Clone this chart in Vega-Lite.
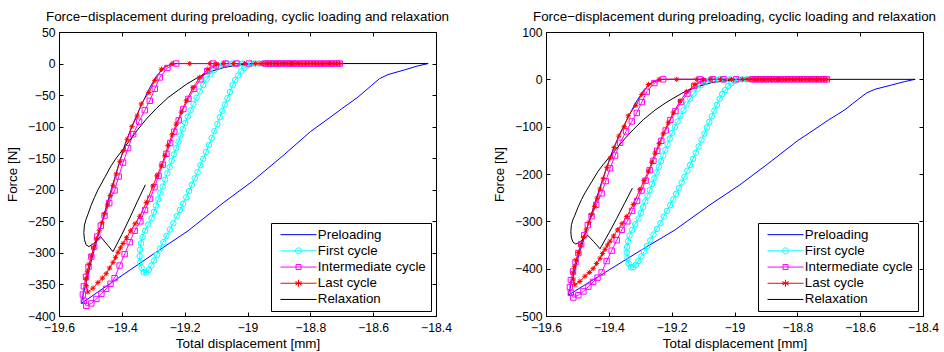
{
"$schema": "https://vega.github.io/schema/vega-lite/v6.json",
"background": "white",
"padding": {"left": 5, "top": 9, "right": 0, "bottom": 0},
"bounds": "flush",
"spacing": 110,
"config": {
  "font": "Liberation Sans",
  "view": {"stroke": "black", "strokeWidth": 1},
  "axis": {"grid": false, "domainColor": "black", "domainWidth": 1, "tickColor": "black", "tickSize": -4, "tickWidth": 1, "labelColor": "black", "labelFontSize": 12.2, "labelFont": "Liberation Sans", "titleColor": "black", "titleFontSize": 13.4, "titleFontWeight": "normal", "titleFont": "Liberation Sans", "labelFlush": false, "labelOverlap": false},
  "axisY": {"titlePadding": 8, "labelPadding": 8},
  "axisX": {"titlePadding": 3, "labelPadding": 9},
  "title": {"fontSize": 13.4, "fontWeight": "normal", "color": "black", "font": "Liberation Sans", "offset": 3}
},
"resolve": {"scale": {"color": "independent", "shape": "independent", "size": "independent", "y": "independent", "x": "independent"}, "legend": {"color": "independent", "shape": "independent", "size": "independent"}},
"datasets": {"d": [
{"s":"Preloading","o":1,"d":-18.425,"f1":0,"f2":0},
{"s":"Preloading","o":2,"d":-18.46,"f1":-4,"f2":-5},
{"s":"Preloading","o":3,"d":-18.5,"f1":-10,"f2":-12},
{"s":"Preloading","o":4,"d":-18.553,"f1":-17.5,"f2":-21},
{"s":"Preloading","o":5,"d":-18.58,"f1":-24,"f2":-29},
{"s":"Preloading","o":6,"d":-18.606,"f1":-35,"f2":-42},
{"s":"Preloading","o":7,"d":-18.648,"f1":-53,"f2":-64},
{"s":"Preloading","o":8,"d":-18.701,"f1":-72,"f2":-86},
{"s":"Preloading","o":9,"d":-18.75,"f1":-90,"f2":-108},
{"s":"Preloading","o":10,"d":-18.8,"f1":-108,"f2":-130},
{"s":"Preloading","o":11,"d":-18.887,"f1":-146,"f2":-175},
{"s":"Preloading","o":12,"d":-18.983,"f1":-186,"f2":-223},
{"s":"Preloading","o":13,"d":-19.078,"f1":-221,"f2":-265},
{"s":"Preloading","o":14,"d":-19.189,"f1":-265,"f2":-318},
{"s":"Preloading","o":15,"d":-19.3,"f1":-302,"f2":-362},
{"s":"Preloading","o":16,"d":-19.4,"f1":-336,"f2":-403},
{"s":"Preloading","o":17,"d":-19.529,"f1":-380,"f2":-456},
{"s":"Preloading","o":18,"d":-19.524,"f1":-368,"f2":-442},
{"s":"Preloading","o":19,"d":-19.515,"f1":-350,"f2":-420},
{"s":"Preloading","o":20,"d":-19.5,"f1":-318,"f2":-382},
{"s":"Preloading","o":21,"d":-19.482,"f1":-285,"f2":-342},
{"s":"Preloading","o":22,"d":-19.46,"f1":-245,"f2":-294},
{"s":"Preloading","o":23,"d":-19.437,"f1":-205,"f2":-246},
{"s":"Preloading","o":24,"d":-19.413,"f1":-165,"f2":-198},
{"s":"Preloading","o":25,"d":-19.39,"f1":-128,"f2":-154},
{"s":"Preloading","o":26,"d":-19.366,"f1":-97,"f2":-116},
{"s":"Preloading","o":27,"d":-19.34,"f1":-68,"f2":-82},
{"s":"Preloading","o":28,"d":-19.315,"f1":-42,"f2":-50},
{"s":"Preloading","o":29,"d":-19.29,"f1":-20,"f2":-24},
{"s":"Preloading","o":30,"d":-19.262,"f1":-5,"f2":-6},
{"s":"Preloading","o":31,"d":-19.235,"f1":0,"f2":0},
{"s":"Preloading","o":32,"d":-18.706,"f1":0,"f2":0},
{"s":"First cycle","o":1,"d":-18.85,"f1":0,"f2":0},
{"s":"First cycle","o":2,"d":-18.866,"f1":0,"f2":0},
{"s":"First cycle","o":3,"d":-18.882,"f1":0,"f2":0},
{"s":"First cycle","o":4,"d":-18.898,"f1":0,"f2":0},
{"s":"First cycle","o":5,"d":-18.914,"f1":0,"f2":0},
{"s":"First cycle","o":6,"d":-18.93,"f1":0,"f2":0},
{"s":"First cycle","o":7,"d":-18.946,"f1":0,"f2":0},
{"s":"First cycle","o":8,"d":-18.962,"f1":0,"f2":0},
{"s":"First cycle","o":9,"d":-18.976,"f1":0,"f2":0},
{"s":"First cycle","o":10,"d":-18.988,"f1":0,"f2":0},
{"s":"First cycle","o":11,"d":-19.0,"f1":-3,"f2":-4},
{"s":"First cycle","o":12,"d":-19.01,"f1":-7,"f2":-8},
{"s":"First cycle","o":13,"d":-19.02,"f1":-12,"f2":-14},
{"s":"First cycle","o":14,"d":-19.03,"f1":-19,"f2":-23},
{"s":"First cycle","o":15,"d":-19.039,"f1":-26,"f2":-31},
{"s":"First cycle","o":16,"d":-19.047,"f1":-34,"f2":-41},
{"s":"First cycle","o":17,"d":-19.056,"f1":-45,"f2":-54},
{"s":"First cycle","o":18,"d":-19.064,"f1":-55,"f2":-66},
{"s":"First cycle","o":19,"d":-19.072,"f1":-65,"f2":-78},
{"s":"First cycle","o":20,"d":-19.08,"f1":-75,"f2":-90},
{"s":"First cycle","o":21,"d":-19.088,"f1":-85,"f2":-102},
{"s":"First cycle","o":22,"d":-19.096,"f1":-96,"f2":-115},
{"s":"First cycle","o":23,"d":-19.105,"f1":-107,"f2":-128},
{"s":"First cycle","o":24,"d":-19.114,"f1":-118,"f2":-142},
{"s":"First cycle","o":25,"d":-19.123,"f1":-129,"f2":-155},
{"s":"First cycle","o":26,"d":-19.132,"f1":-140,"f2":-168},
{"s":"First cycle","o":27,"d":-19.141,"f1":-151,"f2":-181},
{"s":"First cycle","o":28,"d":-19.15,"f1":-161,"f2":-193},
{"s":"First cycle","o":29,"d":-19.159,"f1":-172,"f2":-206},
{"s":"First cycle","o":30,"d":-19.168,"f1":-182,"f2":-218},
{"s":"First cycle","o":31,"d":-19.177,"f1":-192,"f2":-230},
{"s":"First cycle","o":32,"d":-19.186,"f1":-202,"f2":-242},
{"s":"First cycle","o":33,"d":-19.195,"f1":-212,"f2":-254},
{"s":"First cycle","o":34,"d":-19.205,"f1":-222,"f2":-266},
{"s":"First cycle","o":35,"d":-19.215,"f1":-232,"f2":-278},
{"s":"First cycle","o":36,"d":-19.225,"f1":-242,"f2":-290},
{"s":"First cycle","o":37,"d":-19.236,"f1":-253,"f2":-304},
{"s":"First cycle","o":38,"d":-19.247,"f1":-263,"f2":-316},
{"s":"First cycle","o":39,"d":-19.258,"f1":-273,"f2":-328},
{"s":"First cycle","o":40,"d":-19.268,"f1":-283,"f2":-340},
{"s":"First cycle","o":41,"d":-19.278,"f1":-293,"f2":-352},
{"s":"First cycle","o":42,"d":-19.288,"f1":-303,"f2":-364},
{"s":"First cycle","o":43,"d":-19.297,"f1":-312,"f2":-374},
{"s":"First cycle","o":44,"d":-19.306,"f1":-320,"f2":-384},
{"s":"First cycle","o":45,"d":-19.314,"f1":-327,"f2":-392},
{"s":"First cycle","o":46,"d":-19.322,"f1":-331,"f2":-397},
{"s":"First cycle","o":47,"d":-19.33,"f1":-331,"f2":-397},
{"s":"First cycle","o":48,"d":-19.337,"f1":-324,"f2":-389},
{"s":"First cycle","o":49,"d":-19.341,"f1":-315,"f2":-378},
{"s":"First cycle","o":50,"d":-19.343,"f1":-305,"f2":-366},
{"s":"First cycle","o":51,"d":-19.342,"f1":-295,"f2":-354},
{"s":"First cycle","o":52,"d":-19.339,"f1":-285,"f2":-342},
{"s":"First cycle","o":53,"d":-19.334,"f1":-275,"f2":-330},
{"s":"First cycle","o":54,"d":-19.326,"f1":-265,"f2":-318},
{"s":"First cycle","o":55,"d":-19.316,"f1":-255,"f2":-306},
{"s":"First cycle","o":56,"d":-19.305,"f1":-245,"f2":-294},
{"s":"First cycle","o":57,"d":-19.298,"f1":-235,"f2":-282},
{"s":"First cycle","o":58,"d":-19.291,"f1":-225,"f2":-270},
{"s":"First cycle","o":59,"d":-19.284,"f1":-215,"f2":-258},
{"s":"First cycle","o":60,"d":-19.277,"f1":-205,"f2":-246},
{"s":"First cycle","o":61,"d":-19.27,"f1":-195,"f2":-234},
{"s":"First cycle","o":62,"d":-19.262,"f1":-184,"f2":-221},
{"s":"First cycle","o":63,"d":-19.255,"f1":-174,"f2":-209},
{"s":"First cycle","o":64,"d":-19.248,"f1":-164,"f2":-197},
{"s":"First cycle","o":65,"d":-19.241,"f1":-154,"f2":-185},
{"s":"First cycle","o":66,"d":-19.234,"f1":-144,"f2":-173},
{"s":"First cycle","o":67,"d":-19.227,"f1":-134,"f2":-161},
{"s":"First cycle","o":68,"d":-19.22,"f1":-124,"f2":-149},
{"s":"First cycle","o":69,"d":-19.213,"f1":-114,"f2":-137},
{"s":"First cycle","o":70,"d":-19.206,"f1":-104,"f2":-125},
{"s":"First cycle","o":71,"d":-19.198,"f1":-94,"f2":-113},
{"s":"First cycle","o":72,"d":-19.19,"f1":-84,"f2":-101},
{"s":"First cycle","o":73,"d":-19.181,"f1":-74,"f2":-89},
{"s":"First cycle","o":74,"d":-19.172,"f1":-64,"f2":-77},
{"s":"First cycle","o":75,"d":-19.162,"f1":-54,"f2":-65},
{"s":"First cycle","o":76,"d":-19.152,"f1":-44,"f2":-53},
{"s":"First cycle","o":77,"d":-19.141,"f1":-34,"f2":-41},
{"s":"First cycle","o":78,"d":-19.13,"f1":-25,"f2":-30},
{"s":"First cycle","o":79,"d":-19.118,"f1":-17,"f2":-20},
{"s":"First cycle","o":80,"d":-19.105,"f1":-10,"f2":-12},
{"s":"First cycle","o":81,"d":-19.092,"f1":-4,"f2":-5},
{"s":"First cycle","o":82,"d":-19.078,"f1":-1,"f2":-1},
{"s":"First cycle","o":83,"d":-19.064,"f1":0,"f2":0},
{"s":"First cycle","o":84,"d":-19.048,"f1":0,"f2":0},
{"s":"First cycle","o":85,"d":-19.032,"f1":0,"f2":0},
{"s":"First cycle","o":86,"d":-19.016,"f1":0,"f2":0},
{"s":"Intermediate cycle","o":1,"d":-18.706,"f1":0,"f2":0},
{"s":"Intermediate cycle","o":2,"d":-18.725,"f1":0,"f2":0},
{"s":"Intermediate cycle","o":3,"d":-18.745,"f1":0,"f2":0},
{"s":"Intermediate cycle","o":4,"d":-18.765,"f1":0,"f2":0},
{"s":"Intermediate cycle","o":5,"d":-18.785,"f1":0,"f2":0},
{"s":"Intermediate cycle","o":6,"d":-18.805,"f1":0,"f2":0},
{"s":"Intermediate cycle","o":7,"d":-18.825,"f1":0,"f2":0},
{"s":"Intermediate cycle","o":8,"d":-18.845,"f1":0,"f2":0},
{"s":"Intermediate cycle","o":9,"d":-18.865,"f1":0,"f2":0},
{"s":"Intermediate cycle","o":10,"d":-18.885,"f1":0,"f2":0},
{"s":"Intermediate cycle","o":11,"d":-18.905,"f1":0,"f2":0},
{"s":"Intermediate cycle","o":12,"d":-18.925,"f1":0,"f2":0},
{"s":"Intermediate cycle","o":13,"d":-18.945,"f1":0,"f2":0},
{"s":"Intermediate cycle","o":14,"d":-19.035,"f1":0,"f2":0},
{"s":"Intermediate cycle","o":15,"d":-19.07,"f1":0,"f2":0},
{"s":"Intermediate cycle","o":16,"d":-19.1,"f1":-3,"f2":-4},
{"s":"Intermediate cycle","o":17,"d":-19.128,"f1":-12,"f2":-14},
{"s":"Intermediate cycle","o":18,"d":-19.15,"f1":-25,"f2":-30},
{"s":"Intermediate cycle","o":19,"d":-19.17,"f1":-40,"f2":-48},
{"s":"Intermediate cycle","o":20,"d":-19.188,"f1":-56,"f2":-67},
{"s":"Intermediate cycle","o":21,"d":-19.204,"f1":-72,"f2":-86},
{"s":"Intermediate cycle","o":22,"d":-19.219,"f1":-90,"f2":-108},
{"s":"Intermediate cycle","o":23,"d":-19.233,"f1":-108,"f2":-130},
{"s":"Intermediate cycle","o":24,"d":-19.246,"f1":-126,"f2":-151},
{"s":"Intermediate cycle","o":25,"d":-19.258,"f1":-143,"f2":-172},
{"s":"Intermediate cycle","o":26,"d":-19.27,"f1":-160,"f2":-192},
{"s":"Intermediate cycle","o":27,"d":-19.283,"f1":-178,"f2":-214},
{"s":"Intermediate cycle","o":28,"d":-19.296,"f1":-196,"f2":-235},
{"s":"Intermediate cycle","o":29,"d":-19.31,"f1":-214,"f2":-257},
{"s":"Intermediate cycle","o":30,"d":-19.326,"f1":-232,"f2":-278},
{"s":"Intermediate cycle","o":31,"d":-19.341,"f1":-250,"f2":-300},
{"s":"Intermediate cycle","o":32,"d":-19.359,"f1":-265,"f2":-318},
{"s":"Intermediate cycle","o":33,"d":-19.375,"f1":-283,"f2":-340},
{"s":"Intermediate cycle","o":34,"d":-19.391,"f1":-302,"f2":-362},
{"s":"Intermediate cycle","o":35,"d":-19.407,"f1":-320,"f2":-384},
{"s":"Intermediate cycle","o":36,"d":-19.423,"f1":-340,"f2":-408},
{"s":"Intermediate cycle","o":37,"d":-19.436,"f1":-349,"f2":-419},
{"s":"Intermediate cycle","o":38,"d":-19.45,"f1":-357,"f2":-428},
{"s":"Intermediate cycle","o":39,"d":-19.465,"f1":-365,"f2":-438},
{"s":"Intermediate cycle","o":40,"d":-19.481,"f1":-373,"f2":-448},
{"s":"Intermediate cycle","o":41,"d":-19.497,"f1":-380,"f2":-456},
{"s":"Intermediate cycle","o":42,"d":-19.513,"f1":-384,"f2":-461},
{"s":"Intermediate cycle","o":43,"d":-19.521,"f1":-376,"f2":-451},
{"s":"Intermediate cycle","o":44,"d":-19.524,"f1":-366,"f2":-439},
{"s":"Intermediate cycle","o":45,"d":-19.521,"f1":-353,"f2":-424},
{"s":"Intermediate cycle","o":46,"d":-19.514,"f1":-338,"f2":-406},
{"s":"Intermediate cycle","o":47,"d":-19.506,"f1":-322,"f2":-386},
{"s":"Intermediate cycle","o":48,"d":-19.497,"f1":-306,"f2":-367},
{"s":"Intermediate cycle","o":49,"d":-19.488,"f1":-290,"f2":-348},
{"s":"Intermediate cycle","o":50,"d":-19.478,"f1":-274,"f2":-329},
{"s":"Intermediate cycle","o":51,"d":-19.467,"f1":-257,"f2":-308},
{"s":"Intermediate cycle","o":52,"d":-19.455,"f1":-241,"f2":-289},
{"s":"Intermediate cycle","o":53,"d":-19.44,"f1":-221,"f2":-265},
{"s":"Intermediate cycle","o":54,"d":-19.423,"f1":-201,"f2":-241},
{"s":"Intermediate cycle","o":55,"d":-19.41,"f1":-179,"f2":-215},
{"s":"Intermediate cycle","o":56,"d":-19.396,"f1":-157,"f2":-188},
{"s":"Intermediate cycle","o":57,"d":-19.38,"f1":-134,"f2":-161},
{"s":"Intermediate cycle","o":58,"d":-19.364,"f1":-112,"f2":-134},
{"s":"Intermediate cycle","o":59,"d":-19.345,"f1":-92,"f2":-110},
{"s":"Intermediate cycle","o":60,"d":-19.327,"f1":-74,"f2":-89},
{"s":"Intermediate cycle","o":61,"d":-19.311,"f1":-59,"f2":-71},
{"s":"Intermediate cycle","o":62,"d":-19.295,"f1":-40,"f2":-48},
{"s":"Intermediate cycle","o":63,"d":-19.279,"f1":-22,"f2":-26},
{"s":"Intermediate cycle","o":64,"d":-19.255,"f1":-7,"f2":-8},
{"s":"Intermediate cycle","o":65,"d":-19.227,"f1":0,"f2":0},
{"s":"Intermediate cycle","o":66,"d":-19.11,"f1":0,"f2":0},
{"s":"Intermediate cycle","o":67,"d":-18.995,"f1":0,"f2":0},
{"s":"Intermediate cycle","o":68,"d":-18.935,"f1":0,"f2":0},
{"s":"Intermediate cycle","o":69,"d":-18.915,"f1":0,"f2":0},
{"s":"Intermediate cycle","o":70,"d":-18.895,"f1":0,"f2":0},
{"s":"Intermediate cycle","o":71,"d":-18.875,"f1":0,"f2":0},
{"s":"Intermediate cycle","o":72,"d":-18.855,"f1":0,"f2":0},
{"s":"Intermediate cycle","o":73,"d":-18.835,"f1":0,"f2":0},
{"s":"Intermediate cycle","o":74,"d":-18.815,"f1":0,"f2":0},
{"s":"Intermediate cycle","o":75,"d":-18.795,"f1":0,"f2":0},
{"s":"Intermediate cycle","o":76,"d":-18.775,"f1":0,"f2":0},
{"s":"Intermediate cycle","o":77,"d":-18.755,"f1":0,"f2":0},
{"s":"Intermediate cycle","o":78,"d":-18.735,"f1":0,"f2":0},
{"s":"Intermediate cycle","o":79,"d":-18.715,"f1":0,"f2":0},
{"s":"Last cycle","o":1,"d":-18.706,"f1":0,"f2":0},
{"s":"Last cycle","o":2,"d":-18.728,"f1":0,"f2":0},
{"s":"Last cycle","o":3,"d":-18.75,"f1":0,"f2":0},
{"s":"Last cycle","o":4,"d":-18.772,"f1":0,"f2":0},
{"s":"Last cycle","o":5,"d":-18.794,"f1":0,"f2":0},
{"s":"Last cycle","o":6,"d":-18.816,"f1":0,"f2":0},
{"s":"Last cycle","o":7,"d":-18.838,"f1":0,"f2":0},
{"s":"Last cycle","o":8,"d":-18.86,"f1":0,"f2":0},
{"s":"Last cycle","o":9,"d":-18.882,"f1":0,"f2":0},
{"s":"Last cycle","o":10,"d":-18.904,"f1":0,"f2":0},
{"s":"Last cycle","o":11,"d":-18.926,"f1":0,"f2":0},
{"s":"Last cycle","o":12,"d":-18.948,"f1":0,"f2":0},
{"s":"Last cycle","o":13,"d":-18.975,"f1":0,"f2":0},
{"s":"Last cycle","o":14,"d":-19.01,"f1":0,"f2":0},
{"s":"Last cycle","o":15,"d":-19.045,"f1":0,"f2":0},
{"s":"Last cycle","o":16,"d":-19.075,"f1":0,"f2":0},
{"s":"Last cycle","o":17,"d":-19.099,"f1":-1,"f2":-1},
{"s":"Last cycle","o":18,"d":-19.126,"f1":-9,"f2":-11},
{"s":"Last cycle","o":19,"d":-19.152,"f1":-22,"f2":-26},
{"s":"Last cycle","o":20,"d":-19.173,"f1":-38,"f2":-46},
{"s":"Last cycle","o":21,"d":-19.195,"f1":-59,"f2":-71},
{"s":"Last cycle","o":22,"d":-19.211,"f1":-77,"f2":-92},
{"s":"Last cycle","o":23,"d":-19.227,"f1":-96,"f2":-115},
{"s":"Last cycle","o":24,"d":-19.24,"f1":-113,"f2":-136},
{"s":"Last cycle","o":25,"d":-19.253,"f1":-130,"f2":-156},
{"s":"Last cycle","o":26,"d":-19.263,"f1":-146,"f2":-175},
{"s":"Last cycle","o":27,"d":-19.274,"f1":-162,"f2":-194},
{"s":"Last cycle","o":28,"d":-19.288,"f1":-178,"f2":-214},
{"s":"Last cycle","o":29,"d":-19.301,"f1":-194,"f2":-233},
{"s":"Last cycle","o":30,"d":-19.322,"f1":-220,"f2":-264},
{"s":"Last cycle","o":31,"d":-19.343,"f1":-242,"f2":-290},
{"s":"Last cycle","o":32,"d":-19.358,"f1":-254,"f2":-305},
{"s":"Last cycle","o":33,"d":-19.372,"f1":-265,"f2":-318},
{"s":"Last cycle","o":34,"d":-19.385,"f1":-276,"f2":-331},
{"s":"Last cycle","o":35,"d":-19.396,"f1":-285,"f2":-342},
{"s":"Last cycle","o":36,"d":-19.404,"f1":-292,"f2":-350},
{"s":"Last cycle","o":37,"d":-19.412,"f1":-299,"f2":-359},
{"s":"Last cycle","o":38,"d":-19.42,"f1":-307,"f2":-368},
{"s":"Last cycle","o":39,"d":-19.428,"f1":-315,"f2":-378},
{"s":"Last cycle","o":40,"d":-19.439,"f1":-324,"f2":-389},
{"s":"Last cycle","o":41,"d":-19.45,"f1":-333,"f2":-400},
{"s":"Last cycle","o":42,"d":-19.462,"f1":-340,"f2":-408},
{"s":"Last cycle","o":43,"d":-19.476,"f1":-347,"f2":-416},
{"s":"Last cycle","o":44,"d":-19.492,"f1":-356,"f2":-427},
{"s":"Last cycle","o":45,"d":-19.508,"f1":-362,"f2":-434},
{"s":"Last cycle","o":46,"d":-19.513,"f1":-352,"f2":-422},
{"s":"Last cycle","o":47,"d":-19.514,"f1":-341,"f2":-409},
{"s":"Last cycle","o":48,"d":-19.51,"f1":-330,"f2":-396},
{"s":"Last cycle","o":49,"d":-19.504,"f1":-318,"f2":-382},
{"s":"Last cycle","o":50,"d":-19.497,"f1":-305,"f2":-366},
{"s":"Last cycle","o":51,"d":-19.49,"f1":-292,"f2":-350},
{"s":"Last cycle","o":52,"d":-19.481,"f1":-278,"f2":-334},
{"s":"Last cycle","o":53,"d":-19.472,"f1":-265,"f2":-318},
{"s":"Last cycle","o":54,"d":-19.463,"f1":-252,"f2":-302},
{"s":"Last cycle","o":55,"d":-19.455,"f1":-238,"f2":-286},
{"s":"Last cycle","o":56,"d":-19.446,"f1":-224,"f2":-269},
{"s":"Last cycle","o":57,"d":-19.437,"f1":-209,"f2":-251},
{"s":"Last cycle","o":58,"d":-19.428,"f1":-193,"f2":-232},
{"s":"Last cycle","o":59,"d":-19.418,"f1":-175,"f2":-210},
{"s":"Last cycle","o":60,"d":-19.406,"f1":-155,"f2":-186},
{"s":"Last cycle","o":61,"d":-19.395,"f1":-138,"f2":-166},
{"s":"Last cycle","o":62,"d":-19.383,"f1":-120,"f2":-144},
{"s":"Last cycle","o":63,"d":-19.368,"f1":-100,"f2":-120},
{"s":"Last cycle","o":64,"d":-19.351,"f1":-83,"f2":-100},
{"s":"Last cycle","o":65,"d":-19.338,"f1":-64,"f2":-77},
{"s":"Last cycle","o":66,"d":-19.314,"f1":-46,"f2":-55},
{"s":"Last cycle","o":67,"d":-19.295,"f1":-27,"f2":-32},
{"s":"Last cycle","o":68,"d":-19.274,"f1":-9,"f2":-11},
{"s":"Last cycle","o":69,"d":-19.24,"f1":0,"f2":0},
{"s":"Last cycle","o":70,"d":-19.184,"f1":0,"f2":0},
{"s":"Last cycle","o":71,"d":-19.12,"f1":0,"f2":0},
{"s":"Last cycle","o":72,"d":-18.96,"f1":0,"f2":0},
{"s":"Last cycle","o":73,"d":-18.937,"f1":0,"f2":0},
{"s":"Last cycle","o":74,"d":-18.915,"f1":0,"f2":0},
{"s":"Last cycle","o":75,"d":-18.893,"f1":0,"f2":0},
{"s":"Last cycle","o":76,"d":-18.871,"f1":0,"f2":0},
{"s":"Last cycle","o":77,"d":-18.849,"f1":0,"f2":0},
{"s":"Last cycle","o":78,"d":-18.827,"f1":0,"f2":0},
{"s":"Last cycle","o":79,"d":-18.805,"f1":0,"f2":0},
{"s":"Last cycle","o":80,"d":-18.783,"f1":0,"f2":0},
{"s":"Last cycle","o":81,"d":-18.761,"f1":0,"f2":0},
{"s":"Last cycle","o":82,"d":-18.739,"f1":0,"f2":0},
{"s":"Last cycle","o":83,"d":-18.717,"f1":0,"f2":0},
{"s":"Relaxation","o":1,"d":-19.325,"f1":-192,"f2":-230},
{"s":"Relaxation","o":2,"d":-19.35,"f1":-218,"f2":-262},
{"s":"Relaxation","o":3,"d":-19.375,"f1":-245,"f2":-294},
{"s":"Relaxation","o":4,"d":-19.4,"f1":-271,"f2":-325},
{"s":"Relaxation","o":5,"d":-19.428,"f1":-298,"f2":-358},
{"s":"Relaxation","o":6,"d":-19.448,"f1":-286,"f2":-343},
{"s":"Relaxation","o":7,"d":-19.468,"f1":-274,"f2":-329},
{"s":"Relaxation","o":8,"d":-19.48,"f1":-281,"f2":-337},
{"s":"Relaxation","o":9,"d":-19.493,"f1":-287,"f2":-344},
{"s":"Relaxation","o":10,"d":-19.505,"f1":-290,"f2":-348},
{"s":"Relaxation","o":11,"d":-19.514,"f1":-287,"f2":-344},
{"s":"Relaxation","o":12,"d":-19.519,"f1":-279,"f2":-335},
{"s":"Relaxation","o":13,"d":-19.521,"f1":-268,"f2":-322},
{"s":"Relaxation","o":14,"d":-19.519,"f1":-256,"f2":-307},
{"s":"Relaxation","o":15,"d":-19.514,"f1":-247,"f2":-296},
{"s":"Relaxation","o":16,"d":-19.508,"f1":-239,"f2":-287},
{"s":"Relaxation","o":17,"d":-19.498,"f1":-225,"f2":-270},
{"s":"Relaxation","o":18,"d":-19.487,"f1":-212,"f2":-254},
{"s":"Relaxation","o":19,"d":-19.476,"f1":-200,"f2":-240},
{"s":"Relaxation","o":20,"d":-19.455,"f1":-181,"f2":-217},
{"s":"Relaxation","o":21,"d":-19.434,"f1":-162,"f2":-194},
{"s":"Relaxation","o":22,"d":-19.418,"f1":-150,"f2":-180},
{"s":"Relaxation","o":23,"d":-19.395,"f1":-135,"f2":-162},
{"s":"Relaxation","o":24,"d":-19.375,"f1":-122,"f2":-146},
{"s":"Relaxation","o":25,"d":-19.35,"f1":-105,"f2":-126},
{"s":"Relaxation","o":26,"d":-19.322,"f1":-88,"f2":-106},
{"s":"Relaxation","o":27,"d":-19.29,"f1":-71,"f2":-85},
{"s":"Relaxation","o":28,"d":-19.253,"f1":-54,"f2":-65},
{"s":"Relaxation","o":29,"d":-19.22,"f1":-42,"f2":-50},
{"s":"Relaxation","o":30,"d":-19.195,"f1":-33,"f2":-40},
{"s":"Relaxation","o":31,"d":-19.158,"f1":-22,"f2":-26},
{"s":"Relaxation","o":32,"d":-19.12,"f1":-13,"f2":-16},
{"s":"Relaxation","o":33,"d":-19.073,"f1":-6,"f2":-7},
{"s":"Relaxation","o":34,"d":-19.03,"f1":-2.5,"f2":-3},
{"s":"Relaxation","o":35,"d":-18.993,"f1":-0.5,"f2":-0.6},
{"s":"Relaxation","o":36,"d":-18.95,"f1":0,"f2":0},
{"s":"Relaxation","o":37,"d":-18.425,"f1":0,"f2":0}
]},
"hconcat": [
{
  "width": 377, "height": 284,
  "data": {"name": "d"},
  "title": "Force−displacement during preloading, cyclic loading and relaxation",
  "resolve": {"axis": {"x": "independent", "y": "independent"}},
  "layer": [
    {
      "mark": {"type": "line", "strokeWidth": 1},
      "encoding": {
        "x": {"field": "d", "type": "quantitative", "scale": {"domain": [-19.6, -18.4], "nice": false, "zero": false}, "axis": {"orient": "bottom", "title": "Total displacement [mm]", "values": [-19.6, -19.4, -19.2, -19, -18.8, -18.6, -18.4], "format": ".1~f"}},
        "y": {"field": "f1", "type": "quantitative", "scale": {"domain": [-400, 50], "nice": false, "zero": false}, "axis": {"orient": "left", "title": "Force [N]", "values": [-400, -350, -300, -250, -200, -150, -100, -50, 0, 50], "format": ".0f"}},
        "color": {"field": "s", "type": "nominal", "scale": {"domain": ["Preloading", "First cycle", "Intermediate cycle", "Last cycle", "Relaxation"], "range": ["#0000ff", "#00ffff", "#ff00ff", "#ff0000", "#000000"]},
          "legend": {"title": null, "orient": "bottom-right", "offset": 5, "strokeColor": "black", "fillColor": "white", "padding": 5, "labelFontSize": 13.3, "labelColor": "black", "labelFont": "Liberation Sans", "symbolSize": 64, "symbolStrokeWidth": 1, "symbolOffset": 15.85, "labelOffset": 12.7, "rowPadding": 2.2,
            "encode": {"symbols": {"update": {"fill": {"value": "transparent"}, "shape": {"signal": "datum.value === 'First cycle' ? 'M-4.5,0L4.5,0M-0.75,0A0.75,0.75,0,1,0,0.75,0A0.75,0.75,0,1,0,-0.75,0' : datum.value === 'Intermediate cycle' ? 'M-4.5,0L4.5,0M-0.625,-0.625L0.625,-0.625L0.625,0.625L-0.625,0.625Z' : datum.value === 'Last cycle' ? 'M-4.5,0L4.5,0M0,-0.875L0,0.875M-0.76,-0.44L0.76,0.44M-0.76,0.44L0.76,-0.44M-0.875,0L0.875,0' : 'M-4.5,0L4.5,0'"}}}}}},
        "order": {"field": "o", "type": "quantitative"}
      }
    },
    {
      "transform": [{"filter": {"field": "s", "oneOf": ["First cycle", "Intermediate cycle", "Last cycle"]}}],
      "mark": {"type": "point", "filled": false, "strokeWidth": 1, "opacity": 1},
      "encoding": {
        "x": {"field": "d", "type": "quantitative", "axis": {"orient": "top", "labels": false, "title": null, "values": [-19.6, -19.4, -19.2, -19, -18.8, -18.6, -18.4]}},
        "y": {"field": "f1", "type": "quantitative", "axis": {"orient": "right", "labels": false, "title": null, "values": [-400, -350, -300, -250, -200, -150, -100, -50, 0, 50]}},
        "color": {"field": "s", "type": "nominal", "legend": null},
        "shape": {"field": "s", "type": "nominal", "scale": {"domain": ["First cycle", "Intermediate cycle", "Last cycle"], "range": ["circle", "square", "M-1,0L1,0M0,-1L0,1M-0.7,-0.7L0.7,0.7M-0.7,0.7L0.7,-0.7"]}, "legend": null},
        "size": {"field": "s", "type": "nominal", "scale": {"domain": ["First cycle", "Intermediate cycle", "Last cycle"], "range": [30, 28, 49]}, "legend": null}
      }
    }
  ]
},
{
  "width": 377, "height": 284,
  "data": {"name": "d"},
  "title": "Force−displacement during preloading, cyclic loading and relaxation",
  "resolve": {"axis": {"x": "independent", "y": "independent"}},
  "layer": [
    {
      "mark": {"type": "line", "strokeWidth": 1},
      "encoding": {
        "x": {"field": "d", "type": "quantitative", "scale": {"domain": [-19.6, -18.4], "nice": false, "zero": false}, "axis": {"orient": "bottom", "title": "Total displacement [mm]", "values": [-19.6, -19.4, -19.2, -19, -18.8, -18.6, -18.4], "format": ".1~f"}},
        "y": {"field": "f2", "type": "quantitative", "scale": {"domain": [-500, 100], "nice": false, "zero": false}, "axis": {"orient": "left", "title": "Force [N]", "values": [-500, -400, -300, -200, -100, 0, 100], "format": ".0f"}},
        "color": {"field": "s", "type": "nominal", "scale": {"domain": ["Preloading", "First cycle", "Intermediate cycle", "Last cycle", "Relaxation"], "range": ["#0000ff", "#00ffff", "#ff00ff", "#ff0000", "#000000"]},
          "legend": {"title": null, "orient": "bottom-right", "offset": 5, "strokeColor": "black", "fillColor": "white", "padding": 5, "labelFontSize": 13.3, "labelColor": "black", "labelFont": "Liberation Sans", "symbolSize": 64, "symbolStrokeWidth": 1, "symbolOffset": 15.85, "labelOffset": 12.7, "rowPadding": 2.2,
            "encode": {"symbols": {"update": {"fill": {"value": "transparent"}, "shape": {"signal": "datum.value === 'First cycle' ? 'M-4.5,0L4.5,0M-0.75,0A0.75,0.75,0,1,0,0.75,0A0.75,0.75,0,1,0,-0.75,0' : datum.value === 'Intermediate cycle' ? 'M-4.5,0L4.5,0M-0.625,-0.625L0.625,-0.625L0.625,0.625L-0.625,0.625Z' : datum.value === 'Last cycle' ? 'M-4.5,0L4.5,0M0,-0.875L0,0.875M-0.76,-0.44L0.76,0.44M-0.76,0.44L0.76,-0.44M-0.875,0L0.875,0' : 'M-4.5,0L4.5,0'"}}}}}},
        "order": {"field": "o", "type": "quantitative"}
      }
    },
    {
      "transform": [{"filter": {"field": "s", "oneOf": ["First cycle", "Intermediate cycle", "Last cycle"]}}],
      "mark": {"type": "point", "filled": false, "strokeWidth": 1, "opacity": 1},
      "encoding": {
        "x": {"field": "d", "type": "quantitative", "axis": {"orient": "top", "labels": false, "title": null, "values": [-19.6, -19.4, -19.2, -19, -18.8, -18.6, -18.4]}},
        "y": {"field": "f2", "type": "quantitative", "axis": {"orient": "right", "labels": false, "title": null, "values": [-500, -400, -300, -200, -100, 0, 100]}},
        "color": {"field": "s", "type": "nominal", "legend": null},
        "shape": {"field": "s", "type": "nominal", "scale": {"domain": ["First cycle", "Intermediate cycle", "Last cycle"], "range": ["circle", "square", "M-1,0L1,0M0,-1L0,1M-0.7,-0.7L0.7,0.7M-0.7,0.7L0.7,-0.7"]}, "legend": null},
        "size": {"field": "s", "type": "nominal", "scale": {"domain": ["First cycle", "Intermediate cycle", "Last cycle"], "range": [30, 28, 49]}, "legend": null}
      }
    }
  ]
}
]
}
